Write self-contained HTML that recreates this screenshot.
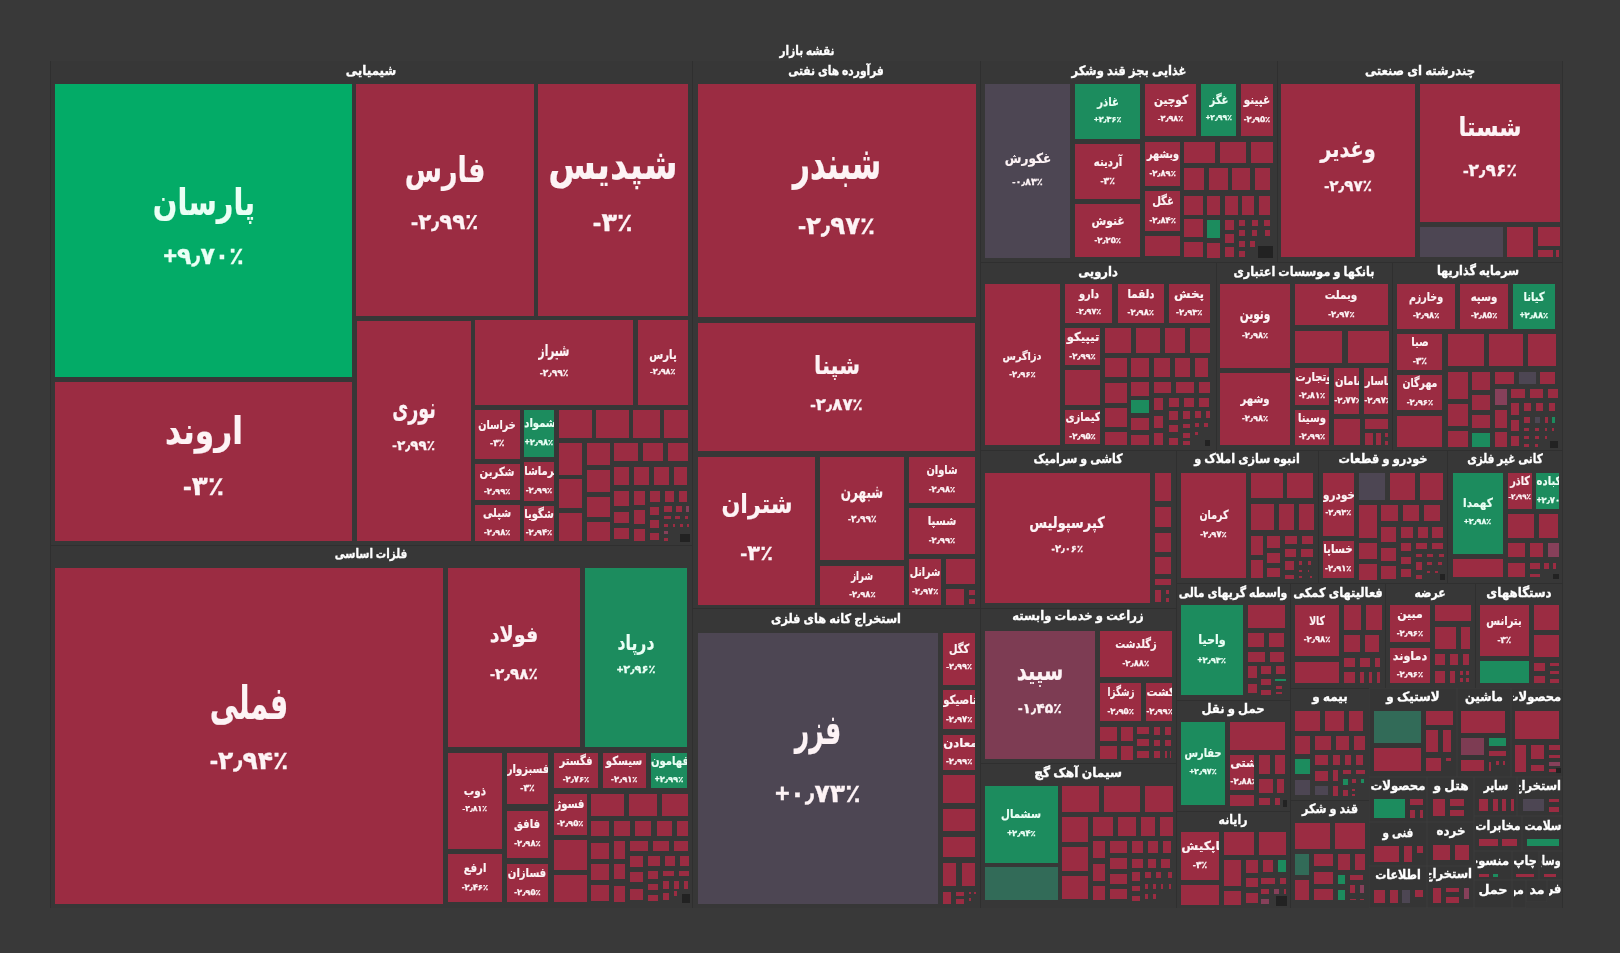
<!DOCTYPE html><html lang="fa"><head><meta charset="utf-8"><title>نقشه بازار</title><style>
html,body{margin:0;padding:0}body{width:1620px;height:953px;background:#393939;overflow:hidden;position:relative;font-family:'Liberation Sans','DejaVu Sans',sans-serif;font-weight:bold;color:#fff}
.c{position:absolute;border-left:1px solid #2f2f2f;box-sizing:border-box}.c2{position:absolute;box-sizing:border-box;background:rgba(0,0,0,.045);box-shadow:inset 0 0 0 .5px rgba(255,255,255,.03)}
.t{position:absolute;overflow:hidden}
.r{background:#9b2c42}
.G{background:#03ab67}
.g{background:#1c8c5e}
.k{background:#4d4653}
.m{background:#7d3c53}
.d{background:#326b58}
.b{background:#222222}
.q{background:#86405a}
.n,.p{position:absolute;left:50%;white-space:nowrap;line-height:1;direction:rtl;color:#fdf3f5}.p{direction:ltr;unicode-bidi:bidi-override;-webkit-text-stroke:.3px currentColor}.n{-webkit-text-stroke:.2px currentColor}
.G .n,.G .p,.g .n,.g .p{color:#eafff5}
.l{position:absolute;overflow:hidden;white-space:nowrap;text-align:center;direction:rtl;font-size:12.8px;line-height:20px;height:20px;color:#fff}
.l{-webkit-text-stroke:.35px #fff}.l span{position:absolute;left:50%;top:0}.l i{font-style:normal;display:inline-block;transform-origin:right center;transform:scaleX(.9)}
#w{position:absolute;left:0;top:0;width:1620px;height:953px;filter:blur(.7px)}
</style></head><body><div id="w">
<div class="c" style="left:50px;top:61px;width:1513px;height:846.5px;border-right:1px solid #303030;background:rgba(0,0,0,.025)"></div>
<div class="c" style="left:50px;top:61px;width:642px;height:484px"></div>
<div class="c" style="left:50px;top:545px;width:642px;height:362.5px;border-top:1px solid #2f2f2f"></div>
<div class="c" style="left:692px;top:61px;width:288px;height:547px"></div>
<div class="c" style="left:692px;top:608px;width:288px;height:299.5px;border-top:1px solid #2f2f2f"></div>
<div class="c" style="left:980px;top:61px;width:297px;height:201px"></div>
<div class="c" style="left:1277px;top:61px;width:286px;height:201px"></div>
<div class="c" style="left:980px;top:262px;width:235.6px;height:188px;border-top:1px solid #2f2f2f"></div>
<div class="c" style="left:1215.6px;top:262px;width:176.4px;height:188px;border-top:1px solid #2f2f2f"></div>
<div class="c" style="left:1392px;top:262px;width:171px;height:188px;border-top:1px solid #2f2f2f"></div>
<div class="c" style="left:980px;top:450px;width:196px;height:158px;border-top:1px solid #2f2f2f"></div>
<div class="c" style="left:1176px;top:450px;width:142px;height:133px;border-top:1px solid #2f2f2f"></div>
<div class="c" style="left:1318px;top:450px;width:129px;height:133px;border-top:1px solid #2f2f2f"></div>
<div class="c" style="left:1447px;top:450px;width:116px;height:133px;border-top:1px solid #2f2f2f"></div>
<div class="c" style="left:980px;top:608px;width:196px;height:155px;border-top:1px solid #2f2f2f"></div>
<div class="c" style="left:980px;top:763px;width:196px;height:144.5px;border-top:1px solid #2f2f2f"></div>
<div class="c" style="left:1176px;top:583px;width:114px;height:117px;border-top:1px solid #2f2f2f"></div>
<div class="c" style="left:1176px;top:700px;width:114px;height:111px;border-top:1px solid #2f2f2f"></div>
<div class="c" style="left:1176px;top:811px;width:114px;height:96.5px;border-top:1px solid #2f2f2f"></div>
<div class="c" style="left:1290px;top:583px;width:95px;height:105px;border-top:1px solid #2f2f2f"></div>
<div class="c" style="left:1385px;top:583px;width:90px;height:105px;border-top:1px solid #2f2f2f"></div>
<div class="c" style="left:1475px;top:583px;width:88px;height:105px;border-top:1px solid #2f2f2f"></div>
<div class="c" style="left:1290px;top:688px;width:79px;height:112px;border-top:1px solid #2f2f2f"></div>
<div class="c" style="left:1290px;top:800px;width:79px;height:107.5px;border-top:1px solid #2f2f2f"></div>
<div class="c2" style="left:1369px;top:688px;width:87.5px;height:89px"></div>
<div class="c2" style="left:1456.5px;top:688px;width:54px;height:89px"></div>
<div class="c2" style="left:1510.5px;top:688px;width:52.5px;height:89px"></div>
<div class="c2" style="left:1369px;top:777px;width:58px;height:45px"></div>
<div class="c2" style="left:1427px;top:777px;width:47px;height:45px"></div>
<div class="c2" style="left:1474px;top:777px;width:43.3px;height:39px"></div>
<div class="c2" style="left:1517.3px;top:777px;width:45.7px;height:39px"></div>
<div class="c2" style="left:1369px;top:822px;width:58px;height:44px"></div>
<div class="c2" style="left:1427px;top:822px;width:47px;height:44px"></div>
<div class="c2" style="left:1474px;top:816px;width:48px;height:35px"></div>
<div class="c2" style="left:1522px;top:816px;width:41px;height:35px"></div>
<div class="c2" style="left:1369px;top:866px;width:58px;height:41.5px"></div>
<div class="c2" style="left:1427px;top:866px;width:47px;height:41.5px"></div>
<div class="c2" style="left:1474px;top:851px;width:37.5px;height:29px"></div>
<div class="c2" style="left:1511.5px;top:851px;width:27px;height:29px"></div>
<div class="c2" style="left:1538.5px;top:851px;width:24.5px;height:29px"></div>
<div class="c2" style="left:1474px;top:880px;width:37.5px;height:27.5px"></div>
<div class="c2" style="left:1511.5px;top:880px;width:14.8px;height:27.5px"></div>
<div class="c2" style="left:1526.3px;top:880px;width:20.7px;height:22px"></div>
<div class="c2" style="left:1547px;top:880px;width:16px;height:14px"></div>
<div class="l" style="left:52px;top:41.1px;width:1509px"><span style="transform:translateX(-50%) scaleX(0.817)">نقشه بازار</span></div>
<div class="l" style="left:52px;top:61.1px;width:638px"><span style="transform:translateX(-50%) scaleX(0.930)">شیمیایی</span></div>
<div class="l" style="left:52px;top:544.1px;width:638px"><span style="transform:translateX(-50%) scaleX(0.806)">فلزات اساسی</span></div>
<div class="l" style="left:694px;top:61.4px;width:284px"><span style="transform:translateX(-50%) scaleX(0.833)">فرآورده های نفتی</span></div>
<div class="l" style="left:694px;top:609.1px;width:284px"><span style="transform:translateX(-50%) scaleX(0.882)">استخراج کانه های فلزی</span></div>
<div class="l" style="left:982px;top:61.3px;width:293px"><span style="transform:translateX(-50%) scaleX(0.899)">غذایی بجز قند وشکر</span></div>
<div class="l" style="left:1279px;top:61.1px;width:282px"><span style="transform:translateX(-50%) scaleX(0.911)">چندرشته ای صنعتی</span></div>
<div class="l" style="left:982px;top:261.9px;width:231.6px"><span style="transform:translateX(-50%) scaleX(0.899)">دارویی</span></div>
<div class="l" style="left:1217.6px;top:261.5px;width:172.4px"><span style="transform:translateX(-50%) scaleX(0.878)">بانکها و موسسات اعتباری</span></div>
<div class="l" style="left:1394px;top:261.1px;width:167px"><span style="transform:translateX(-50%) scaleX(0.874)">سرمایه گذاریها</span></div>
<div class="l" style="left:982px;top:449.3px;width:192px"><span style="transform:translateX(-50%) scaleX(0.857)">کاشی و سرامیک</span></div>
<div class="l" style="left:1178px;top:449.3px;width:138px"><span style="transform:translateX(-50%) scaleX(0.878)">انبوه سازی املاک و</span></div>
<div class="l" style="left:1320px;top:449.1px;width:125px"><span style="transform:translateX(-50%) scaleX(0.891)">خودرو و قطعات</span></div>
<div class="l" style="left:1449px;top:449.1px;width:112px"><span style="transform:translateX(-50%) scaleX(0.819)">کانی غیر فلزی</span></div>
<div class="l" style="left:982px;top:606.4px;width:192px"><span style="transform:translateX(-50%) scaleX(0.903)">زراعت و خدمات وابسته</span></div>
<div class="l" style="left:982px;top:763.4px;width:192px"><span style="transform:translateX(-50%) scaleX(0.951)">سیمان آهک گچ</span></div>
<div class="l" style="left:1178px;top:583.1px;width:110px"><span style="transform:translateX(-50%) scaleX(0.850)">واسطه گریهای مالی</span></div>
<div class="l" style="left:1178px;top:698.9px;width:110px"><span style="transform:translateX(-50%) scaleX(0.903)">حمل و نقل</span></div>
<div class="l" style="left:1178px;top:810.4px;width:110px"><span style="transform:translateX(-50%) scaleX(0.849)">رایانه</span></div>
<div class="l" style="left:1292px;top:583.1px;width:91px"><span style="transform:translateX(-50%) scaleX(0.890)">فعالیتهای کمکی</span></div>
<div class="l" style="left:1387px;top:583.1px;width:86px"><span style="transform:translateX(-50%) scaleX(0.844)">عرضه</span></div>
<div class="l" style="left:1477px;top:583.1px;width:84px"><span style="transform:translateX(-50%) scaleX(0.926)">دستگاههای</span></div>
<div class="l" style="left:1292px;top:686.7px;width:75px"><span style="transform:translateX(-50%) scaleX(0.935)">بیمه و</span></div>
<div class="l" style="left:1292px;top:799.4px;width:75px"><span style="transform:translateX(-50%) scaleX(0.873)">قند و شکر</span></div>
<div class="l" style="left:1371px;top:687px;width:83.5px"><span style="transform:translateX(-50%) scaleX(0.937)">لاستیک و</span></div>
<div class="l" style="left:1458.5px;top:686.5px;width:50px"><span style="transform:translateX(-50%) scaleX(0.899)">ماشین</span></div>
<div class="l" style="left:1512.5px;top:686.5px;width:48.5px"><i>محصولات</i></div>
<div class="l" style="left:1371px;top:775.7px;width:54px"><span style="transform:translateX(-50%) scaleX(0.916)">محصولات</span></div>
<div class="l" style="left:1429px;top:775.7px;width:43px"><span style="transform:translateX(-50%) scaleX(0.948)">هتل و</span></div>
<div class="l" style="left:1476px;top:775.7px;width:39.3px"><span style="transform:translateX(-50%) scaleX(0.811)">سایر</span></div>
<div class="l" style="left:1519.3px;top:775.7px;width:41.7px"><i>استخراج</i></div>
<div class="l" style="left:1371px;top:822.9px;width:54px"><span style="transform:translateX(-50%) scaleX(0.808)">فنی و</span></div>
<div class="l" style="left:1429px;top:821.1px;width:43px"><span style="transform:translateX(-50%) scaleX(0.920)">خرده</span></div>
<div class="l" style="left:1476px;top:815.7px;width:44px"><span style="transform:translateX(-50%) scaleX(0.871)">مخابرات</span></div>
<div class="l" style="left:1524px;top:815.7px;width:37px"><span style="transform:translateX(-50%) scaleX(0.845)">سلامت</span></div>
<div class="l" style="left:1371px;top:865.1px;width:54px"><span style="transform:translateX(-50%) scaleX(0.869)">اطلاعات</span></div>
<div class="l" style="left:1429px;top:863.6px;width:43px"><i>استخراج</i></div>
<div class="l" style="left:1476px;top:850.7px;width:33.5px"><i>منسوجات</i></div>
<div class="l" style="left:1513.5px;top:850.7px;width:23px"><span style="transform:translateX(-50%) scaleX(0.879)">چاپ</span></div>
<div class="l" style="left:1540.5px;top:850.7px;width:20.5px"><i style="transform:scaleX(0.74)">وسایل</i></div>
<div class="l" style="left:1476px;top:880.4px;width:33.5px"><span style="transform:translateX(-50%) scaleX(0.993)">حمل</span></div>
<div class="l" style="left:1513.5px;top:880.4px;width:10.8px"><i>مواد</i></div>
<div class="l" style="left:1528.3px;top:880.4px;width:16.7px"><span style="transform:translateX(-50%) scaleX(0.981)">مد</span></div>
<div class="l" style="left:1549px;top:878.6px;width:12px"><i>فر</i></div>
<div class="t G" style="left:55px;top:84px;width:297px;height:293px"><span class="n" style="top:118.2px;font-size:37px;transform:translate(-50%,-50%) scaleX(0.781)">پارسان</span><span class="p" style="top:173px;font-size:23.7px;transform:translate(-50%,-50%)">+۹٫۷۰٪</span></div>
<div class="t r" style="left:356px;top:84px;width:177.5px;height:231.5px"><span class="n" style="top:85.3px;font-size:35px;transform:translate(-50%,-50%) scaleX(0.772)">فارس</span><span class="p" style="top:139.2px;font-size:21.4px;transform:translate(-50%,-50%)">-۲٫۹۹٪</span></div>
<div class="t r" style="left:537.5px;top:84px;width:150.5px;height:231.5px"><span class="n" style="top:81.1px;font-size:42.2px;transform:translate(-50%,-50%) scaleX(0.817)">شپدیس</span><span class="p" style="top:138.8px;font-size:25.6px;transform:translate(-50%,-50%)">-۳٪</span></div>
<div class="t r" style="left:55px;top:381.5px;width:297px;height:159.5px"><span class="n" style="top:49.1px;font-size:38px;transform:translate(-50%,-50%) scaleX(0.825)">اروند</span><span class="p" style="top:104.8px;font-size:26.3px;transform:translate(-50%,-50%)">-۳٪</span></div>
<div class="t r" style="left:356.5px;top:320.5px;width:114.5px;height:220px"><span class="n" style="top:87.2px;font-size:28.5px;transform:translate(-50%,-50%) scaleX(0.613)">نوری</span><span class="p" style="top:125px;font-size:13.6px;transform:translate(-50%,-50%)">-۲٫۹۹٪</span></div>
<div class="t r" style="left:475px;top:320px;width:158px;height:85px"><span class="n" style="top:29.7px;font-size:16.3px;transform:translate(-50%,-50%) scaleX(0.646)">شیراز</span><span class="p" style="top:53.7px;font-size:9.1px;transform:translate(-50%,-50%)">-۲٫۹۹٪</span></div>
<div class="t r" style="left:638px;top:320px;width:49.5px;height:85px"><span class="n" style="top:34.6px;font-size:12.5px;transform:translate(-50%,-50%) scaleX(0.809)">پارس</span><span class="p" style="top:51.9px;font-size:8.1px;transform:translate(-50%,-50%)">-۲٫۹۸٪</span></div>
<div class="t r" style="left:475px;top:410px;width:44.5px;height:49px"><span class="n" style="top:14.6px;font-size:12.4px;transform:translate(-50%,-50%) scaleX(0.780)">خراسان</span><span class="p" style="top:34.4px;font-size:9.2px;transform:translate(-50%,-50%)">-۳٪</span></div>
<div class="t g" style="left:524px;top:410px;width:30px;height:46.5px"><span class="n" style="left:16.3px;top:13.4px;font-size:12.4px;transform:translate(-50%,-50%) scaleX(0.810)">شمواد</span><span class="p" style="top:32.1px;font-size:8.4px;transform:translate(-50%,-50%)">+۲٫۹۸٪</span></div>
<div class="t r" style="left:475px;top:464px;width:44.5px;height:36px"><span class="n" style="top:8.1px;font-size:12.4px;transform:translate(-50%,-50%) scaleX(0.810)">شکربن</span><span class="p" style="top:26.9px;font-size:8.4px;transform:translate(-50%,-50%)">-۲٫۹۹٪</span></div>
<div class="t r" style="left:524px;top:461.5px;width:30px;height:39.5px"><span class="n" style="left:18.4px;top:9.9px;font-size:12.4px;transform:translate(-50%,-50%) scaleX(0.810)">کرماشا</span><span class="p" style="top:28.6px;font-size:8.4px;transform:translate(-50%,-50%)">-۲٫۹۹٪</span></div>
<div class="t r" style="left:475px;top:505px;width:44.5px;height:36px"><span class="n" style="top:8.1px;font-size:12.4px;transform:translate(-50%,-50%) scaleX(0.810)">شپلی</span><span class="p" style="top:26.9px;font-size:8.4px;transform:translate(-50%,-50%)">-۲٫۹۸٪</span></div>
<div class="t r" style="left:524px;top:506px;width:30px;height:35px"><span class="n" style="left:15.3px;top:7.6px;font-size:12.4px;transform:translate(-50%,-50%) scaleX(0.810)">شگویا</span><span class="p" style="top:26.4px;font-size:8.4px;transform:translate(-50%,-50%)">-۲٫۹۴٪</span></div>
<div class="t r" style="left:558.8px;top:410px;width:33.2px;height:28px"></div>
<div class="t r" style="left:596px;top:410px;width:33px;height:28px"></div>
<div class="t r" style="left:633px;top:410px;width:26.5px;height:28px"></div>
<div class="t r" style="left:664px;top:410px;width:24px;height:28px"></div>
<div class="t r" style="left:559px;top:443px;width:23px;height:31.5px"></div>
<div class="t r" style="left:559px;top:479px;width:23px;height:29px"></div>
<div class="t r" style="left:559px;top:513px;width:23px;height:28px"></div>
<div class="t r" style="left:587px;top:443px;width:22.5px;height:22px"></div>
<div class="t r" style="left:587px;top:470px;width:22.5px;height:21.5px"></div>
<div class="t r" style="left:587px;top:496.5px;width:22.5px;height:20.5px"></div>
<div class="t r" style="left:587px;top:521.5px;width:22.5px;height:19.5px"></div>
<div class="t r" style="left:614px;top:442.8px;width:24.2px;height:18.7px"></div>
<div class="t r" style="left:643px;top:442.8px;width:19.9px;height:18.7px"></div>
<div class="t r" style="left:668px;top:442.8px;width:19.6px;height:18.7px"></div>
<div class="t r" style="left:614px;top:466.6px;width:15.1px;height:18.4px"></div>
<div class="t r" style="left:634px;top:466.6px;width:15px;height:18.4px"></div>
<div class="t r" style="left:653.9px;top:466.6px;width:15px;height:18.4px"></div>
<div class="t r" style="left:674px;top:466.6px;width:13px;height:18.4px"></div>
<div class="t r" style="left:614px;top:490.5px;width:15px;height:15.9px"></div>
<div class="t r" style="left:614px;top:511.6px;width:15px;height:11.4px"></div>
<div class="t r" style="left:614px;top:527.9px;width:15px;height:11.6px"></div>
<div class="t r" style="left:634px;top:490.5px;width:11.4px;height:14.7px"></div>
<div class="t r" style="left:634px;top:510px;width:11.4px;height:13.7px"></div>
<div class="t r" style="left:634px;top:529px;width:11.4px;height:12px"></div>
<div class="t r" style="left:650.2px;top:490.5px;width:10px;height:11.1px"></div>
<div class="t r" style="left:665px;top:490.5px;width:9.4px;height:11.1px"></div>
<div class="t r" style="left:678.8px;top:490.5px;width:8.2px;height:11.1px"></div>
<div class="t r" style="left:650.2px;top:506.8px;width:8.8px;height:8.4px"></div>
<div class="t r" style="left:650.2px;top:520px;width:8.8px;height:7.9px"></div>
<div class="t r" style="left:650.2px;top:533px;width:8.8px;height:6.5px"></div>
<div class="t r" style="left:663.9px;top:506.4px;width:8.1px;height:5.2px"></div>
<div class="t r" style="left:676.4px;top:506.4px;width:5.2px;height:5.2px"></div>
<div class="t q" style="left:685.5px;top:506.4px;width:3px;height:5.2px"></div>
<div class="t r" style="left:663.9px;top:516px;width:6.8px;height:3.4px"></div>
<div class="t r" style="left:675px;top:516px;width:5.4px;height:3.4px"></div>
<div class="t r" style="left:684.9px;top:516px;width:3.6px;height:3.4px"></div>
<div class="t r" style="left:663.9px;top:524px;width:3.8px;height:3px"></div>
<div class="t r" style="left:672.5px;top:524px;width:2.5px;height:3px"></div>
<div class="t r" style="left:680px;top:524px;width:3.2px;height:3px"></div>
<div class="t r" style="left:686.5px;top:524px;width:2px;height:3px"></div>
<div class="t q" style="left:663.9px;top:531px;width:3.8px;height:3px"></div>
<div class="t r" style="left:663.9px;top:538px;width:3.8px;height:3px"></div>
<div class="t b" style="left:680px;top:534px;width:9.5px;height:8px"></div>
<div class="t r" style="left:55px;top:567.7px;width:388px;height:336.3px"><span class="n" style="top:135.2px;font-size:46.1px;transform:translate(-50%,-50%) scaleX(0.622)">فملی</span><span class="p" style="top:192.2px;font-size:25px;transform:translate(-50%,-50%)">-۲٫۹۴٪</span></div>
<div class="t r" style="left:447.5px;top:567.5px;width:132.8px;height:179.3px"><span class="n" style="top:67.6px;font-size:21.8px;transform:translate(-50%,-50%) scaleX(0.880)">فولاد</span><span class="p" style="top:106.2px;font-size:15.2px;transform:translate(-50%,-50%)">-۲٫۹۸٪</span></div>
<div class="t g" style="left:585.2px;top:567.5px;width:101.6px;height:179.3px"><span class="n" style="top:75.3px;font-size:20.7px;transform:translate(-50%,-50%) scaleX(0.759)">درپاد</span><span class="p" style="top:102.5px;font-size:11.4px;transform:translate(-50%,-50%)">+۲٫۹۶٪</span></div>
<div class="t r" style="left:447.5px;top:753.2px;width:54.7px;height:95.5px"><span class="n" style="top:37.9px;font-size:12.4px;transform:translate(-50%,-50%) scaleX(0.840)">ذوب</span><span class="p" style="top:55.9px;font-size:7.8px;transform:translate(-50%,-50%)">-۲٫۸۱٪</span></div>
<div class="t r" style="left:447.5px;top:854px;width:54.7px;height:48px"><span class="n" style="top:14.1px;font-size:12.4px;transform:translate(-50%,-50%) scaleX(0.810)">ارفع</span><span class="p" style="top:32.9px;font-size:8.4px;transform:translate(-50%,-50%)">-۲٫۴۶٪</span></div>
<div class="t r" style="left:506.7px;top:753.2px;width:41.6px;height:51px"><span class="n" style="left:21.8px;top:15.6px;font-size:12.4px;transform:translate(-50%,-50%) scaleX(0.810)">فسبزوار</span><span class="p" style="top:35.4px;font-size:9.2px;transform:translate(-50%,-50%)">-۳٪</span></div>
<div class="t r" style="left:506.7px;top:810.6px;width:41.6px;height:47.5px"><span class="n" style="top:13.9px;font-size:12.4px;transform:translate(-50%,-50%) scaleX(0.810)">فافق</span><span class="p" style="top:32.6px;font-size:8.4px;transform:translate(-50%,-50%)">-۲٫۹۸٪</span></div>
<div class="t r" style="left:506.7px;top:863.8px;width:41.6px;height:38.5px"><span class="n" style="top:9.4px;font-size:12.4px;transform:translate(-50%,-50%) scaleX(0.810)">فسازان</span><span class="p" style="top:28.1px;font-size:8.4px;transform:translate(-50%,-50%)">-۲٫۹۵٪</span></div>
<div class="t r" style="left:553.9px;top:753.2px;width:44.2px;height:34.7px"><span class="n" style="top:7.5px;font-size:12.4px;transform:translate(-50%,-50%) scaleX(0.810)">فگستر</span><span class="p" style="top:26.2px;font-size:8.4px;transform:translate(-50%,-50%)">-۲٫۷۶٪</span></div>
<div class="t r" style="left:603px;top:753px;width:42.6px;height:35px"><span class="n" style="top:7.6px;font-size:12.4px;transform:translate(-50%,-50%) scaleX(0.810)">سیسکو</span><span class="p" style="top:26.4px;font-size:8.4px;transform:translate(-50%,-50%)">-۲٫۹۱٪</span></div>
<div class="t g" style="left:650.9px;top:753px;width:36.3px;height:35px"><span class="n" style="left:19.5px;top:7.6px;font-size:12.4px;transform:translate(-50%,-50%) scaleX(0.810)">فهامون</span><span class="p" style="top:26.4px;font-size:8.4px;transform:translate(-50%,-50%)">+۲٫۹۹٪</span></div>
<div class="t r" style="left:553.9px;top:793.9px;width:32.7px;height:40.9px"><span class="n" style="top:10.6px;font-size:12.4px;transform:translate(-50%,-50%) scaleX(0.810)">فسوژ</span><span class="p" style="top:29.3px;font-size:8.4px;transform:translate(-50%,-50%)">-۲٫۹۵٪</span></div>
<div class="t r" style="left:553.9px;top:840px;width:32.7px;height:29.8px"></div>
<div class="t r" style="left:553.9px;top:875px;width:32.7px;height:27px"></div>
<div class="t r" style="left:591.4px;top:794px;width:32.7px;height:22px"></div>
<div class="t r" style="left:628.9px;top:794px;width:27.9px;height:22px"></div>
<div class="t r" style="left:661.6px;top:794px;width:26.6px;height:22px"></div>
<div class="t r" style="left:591.4px;top:821px;width:17.7px;height:15px"></div>
<div class="t r" style="left:613.9px;top:821px;width:16.3px;height:15px"></div>
<div class="t r" style="left:635px;top:821px;width:16.4px;height:15px"></div>
<div class="t r" style="left:656.5px;top:821px;width:15.3px;height:15px"></div>
<div class="t r" style="left:676.6px;top:821px;width:11.9px;height:15px"></div>
<div class="t r" style="left:591.4px;top:842.5px;width:17.7px;height:16.1px"></div>
<div class="t r" style="left:591.4px;top:864px;width:17.7px;height:15.8px"></div>
<div class="t r" style="left:591.4px;top:885.2px;width:17.7px;height:15.8px"></div>
<div class="t r" style="left:613.9px;top:841px;width:11.6px;height:17.6px"></div>
<div class="t r" style="left:613.9px;top:864px;width:11.6px;height:15px"></div>
<div class="t r" style="left:613.9px;top:886px;width:11.6px;height:16px"></div>
<div class="t r" style="left:630.2px;top:841px;width:17.8px;height:10px"></div>
<div class="t r" style="left:652.7px;top:841px;width:16.3px;height:10px"></div>
<div class="t r" style="left:673.9px;top:841px;width:14.6px;height:10px"></div>
<div class="t r" style="left:630.2px;top:856px;width:12.8px;height:10.5px"></div>
<div class="t r" style="left:630.2px;top:872.3px;width:12.8px;height:10.2px"></div>
<div class="t r" style="left:630.2px;top:889px;width:12.8px;height:11px"></div>
<div class="t r" style="left:648px;top:856px;width:12.2px;height:10px"></div>
<div class="t r" style="left:665px;top:856px;width:10.2px;height:10px"></div>
<div class="t r" style="left:680px;top:856px;width:8.9px;height:10px"></div>
<div class="t r" style="left:648px;top:871px;width:10px;height:7.8px"></div>
<div class="t r" style="left:648px;top:883.9px;width:10px;height:6.1px"></div>
<div class="t r" style="left:648px;top:894.8px;width:10px;height:6.2px"></div>
<div class="t r" style="left:662.5px;top:871px;width:11.4px;height:5px"></div>
<div class="t r" style="left:679px;top:871px;width:10px;height:5px"></div>
<div class="t r" style="left:662.5px;top:881px;width:6.5px;height:7.5px"></div>
<div class="t r" style="left:673.9px;top:881px;width:4.7px;height:7.5px"></div>
<div class="t r" style="left:683.8px;top:881px;width:4.2px;height:7.5px"></div>
<div class="t r" style="left:662.5px;top:893.4px;width:6.5px;height:6.8px"></div>
<div class="t r" style="left:673.9px;top:891.4px;width:2.7px;height:4.6px"></div>
<div class="t b" style="left:682px;top:894px;width:7.5px;height:9px"></div>
<div class="t r" style="left:697.5px;top:84.2px;width:278px;height:233.3px"><span class="n" style="top:80.1px;font-size:45.5px;transform:translate(-50%,-50%) scaleX(0.659)">شبندر</span><span class="p" style="top:141.4px;font-size:24.5px;transform:translate(-50%,-50%)">-۲٫۹۷٪</span></div>
<div class="t r" style="left:698px;top:323px;width:277px;height:128px"><span class="n" style="top:42.7px;font-size:25.2px;transform:translate(-50%,-50%) scaleX(0.843)">شپنا</span><span class="p" style="top:82.1px;font-size:16.7px;transform:translate(-50%,-50%)">-۲٫۸۷٪</span></div>
<div class="t r" style="left:698px;top:457px;width:117.3px;height:148px"><span class="n" style="top:47px;font-size:26.7px;transform:translate(-50%,-50%) scaleX(0.831)">شتران</span><span class="p" style="top:94.7px;font-size:21px;transform:translate(-50%,-50%)">-۳٪</span></div>
<div class="t r" style="left:820.4px;top:457px;width:83.9px;height:103.3px"><span class="n" style="top:36.3px;font-size:17.9px;transform:translate(-50%,-50%) scaleX(0.671)">شبهرن</span><span class="p" style="top:62.6px;font-size:9.1px;transform:translate(-50%,-50%)">-۲٫۹۹٪</span></div>
<div class="t r" style="left:820.4px;top:566px;width:83.9px;height:39px"><span class="n" style="top:9.6px;font-size:12.4px;transform:translate(-50%,-50%) scaleX(0.695)">شراز</span><span class="p" style="top:28.4px;font-size:8.4px;transform:translate(-50%,-50%)">-۲٫۹۸٪</span></div>
<div class="t r" style="left:909px;top:457px;width:66px;height:46.2px"><span class="n" style="top:13.2px;font-size:12.4px;transform:translate(-50%,-50%) scaleX(0.789)">شاوان</span><span class="p" style="top:32px;font-size:8.4px;transform:translate(-50%,-50%)">-۲٫۹۸٪</span></div>
<div class="t r" style="left:909px;top:508.3px;width:66px;height:46px"><span class="n" style="top:13.1px;font-size:12.4px;transform:translate(-50%,-50%) scaleX(0.825)">شسپا</span><span class="p" style="top:31.9px;font-size:8.4px;transform:translate(-50%,-50%)">-۲٫۹۹٪</span></div>
<div class="t r" style="left:909px;top:559.3px;width:32.3px;height:45.7px"><span class="n" style="top:13px;font-size:12.4px;transform:translate(-50%,-50%) scaleX(0.769)">شرانل</span><span class="p" style="top:31.7px;font-size:8.4px;transform:translate(-50%,-50%)">-۲٫۹۷٪</span></div>
<div class="t r" style="left:946.3px;top:559.3px;width:28.7px;height:24.5px"></div>
<div class="t r" style="left:946.3px;top:589px;width:18.2px;height:16px"></div>
<div class="t r" style="left:969px;top:589.5px;width:5.5px;height:5.5px"></div>
<div class="t r" style="left:969px;top:599px;width:5.5px;height:5px"></div>
<div class="t k" style="left:698px;top:632.6px;width:239.6px;height:271.4px"><span class="n" style="top:97.7px;font-size:41.8px;transform:translate(-50%,-50%) scaleX(0.600)">فزر</span><span class="p" style="top:161px;font-size:25.2px;transform:translate(-50%,-50%)">+۰٫۷۳٪</span></div>
<div class="t r" style="left:943px;top:632.6px;width:32.2px;height:52px"><span class="n" style="top:16.1px;font-size:12.4px;transform:translate(-50%,-50%) scaleX(0.793)">کگل</span><span class="p" style="top:34.5px;font-size:8.1px;transform:translate(-50%,-50%)">-۲٫۹۹٪</span></div>
<div class="t r" style="left:943px;top:690px;width:32.2px;height:39.3px"><span class="n" style="left:17.2px;top:9.8px;font-size:12.4px;transform:translate(-50%,-50%) scaleX(0.810)">تاصیکو</span><span class="p" style="top:28.5px;font-size:8.4px;transform:translate(-50%,-50%)">-۲٫۹۷٪</span></div>
<div class="t r" style="left:943px;top:735.4px;width:32.2px;height:34.2px"><span class="n" style="left:21.2px;top:7.2px;font-size:12.4px;transform:translate(-50%,-50%) scaleX(0.942)">ومعادن</span><span class="p" style="top:26px;font-size:8.4px;transform:translate(-50%,-50%)">-۲٫۹۹٪</span></div>
<div class="t r" style="left:943px;top:775.3px;width:32.2px;height:27.9px"></div>
<div class="t r" style="left:943px;top:809px;width:32.2px;height:22px"></div>
<div class="t r" style="left:943px;top:836.8px;width:32.2px;height:20.2px"></div>
<div class="t r" style="left:943px;top:862.7px;width:13.4px;height:23.5px"></div>
<div class="t r" style="left:962px;top:862.7px;width:13px;height:23.5px"></div>
<div class="t r" style="left:943px;top:891.6px;width:8px;height:12.4px"></div>
<div class="t r" style="left:956.4px;top:891.6px;width:7.4px;height:4px"></div>
<div class="t r" style="left:956.4px;top:898.8px;width:7.4px;height:5.2px"></div>
<div class="t r" style="left:968.5px;top:891.6px;width:2.5px;height:2.9px"></div>
<div class="t r" style="left:973.5px;top:891.6px;width:2px;height:2.9px"></div>
<div class="t r" style="left:968.5px;top:898px;width:2.5px;height:2.5px"></div>
<div class="t k" style="left:984.9px;top:84.3px;width:85.3px;height:173.4px"><span class="n" style="top:74.5px;font-size:13.7px;transform:translate(-50%,-50%) scaleX(0.880)">غکورش</span><span class="p" style="top:97.9px;font-size:9.7px;transform:translate(-50%,-50%)">-۰٫۸۳٪</span></div>
<div class="t g" style="left:1075.2px;top:84.3px;width:65px;height:54.9px"><span class="n" style="top:17.6px;font-size:12.4px;transform:translate(-50%,-50%) scaleX(0.817)">غاذر</span><span class="p" style="top:36px;font-size:8.1px;transform:translate(-50%,-50%)">+۲٫۳۶٪</span></div>
<div class="t r" style="left:1145px;top:84.3px;width:51px;height:52.2px"><span class="n" style="top:16.2px;font-size:12.4px;transform:translate(-50%,-50%) scaleX(0.852)">کوچین</span><span class="p" style="top:34.6px;font-size:8.1px;transform:translate(-50%,-50%)">-۲٫۹۸٪</span></div>
<div class="t g" style="left:1201.3px;top:84.3px;width:35.2px;height:52.2px"><span class="n" style="top:16.2px;font-size:12.4px;transform:translate(-50%,-50%) scaleX(0.811)">غگز</span><span class="p" style="top:34.2px;font-size:7.7px;transform:translate(-50%,-50%)">+۲٫۹۹٪</span></div>
<div class="t r" style="left:1241.1px;top:84.3px;width:31.8px;height:52.2px"><span class="n" style="top:16.2px;font-size:12.4px;transform:translate(-50%,-50%) scaleX(0.844)">غپینو</span><span class="p" style="top:35px;font-size:8.4px;transform:translate(-50%,-50%)">-۲٫۹۵٪</span></div>
<div class="t r" style="left:1075.2px;top:144.2px;width:65px;height:55.1px"><span class="n" style="top:17.7px;font-size:12.4px;transform:translate(-50%,-50%) scaleX(0.814)">آردینه</span><span class="p" style="top:37.4px;font-size:9.2px;transform:translate(-50%,-50%)">-۳٪</span></div>
<div class="t r" style="left:1075.2px;top:204.4px;width:65px;height:52.8px"><span class="n" style="top:16.5px;font-size:12.4px;transform:translate(-50%,-50%) scaleX(0.863)">غنوش</span><span class="p" style="top:35.3px;font-size:8.4px;transform:translate(-50%,-50%)">-۲٫۲۵٪</span></div>
<div class="t r" style="left:1145px;top:142px;width:35.3px;height:44.1px"><span class="n" style="top:12.2px;font-size:12.4px;transform:translate(-50%,-50%) scaleX(0.781)">وبشهر</span><span class="p" style="top:30.9px;font-size:8.4px;transform:translate(-50%,-50%)">-۲٫۸۹٪</span></div>
<div class="t r" style="left:1145px;top:190.9px;width:35.3px;height:39.7px"><span class="n" style="top:10px;font-size:12.4px;transform:translate(-50%,-50%) scaleX(0.813)">غگل</span><span class="p" style="top:28.7px;font-size:8.4px;transform:translate(-50%,-50%)">-۲٫۸۴٪</span></div>
<div class="t r" style="left:1145px;top:235.7px;width:35.3px;height:20.3px"></div>
<div class="t r" style="left:1184.3px;top:142px;width:30.7px;height:21px"></div>
<div class="t r" style="left:1220px;top:142px;width:26.4px;height:21px"></div>
<div class="t r" style="left:1251px;top:142px;width:21.9px;height:21px"></div>
<div class="t r" style="left:1184.3px;top:167.8px;width:19.7px;height:22px"></div>
<div class="t r" style="left:1208.5px;top:167.8px;width:19.5px;height:22px"></div>
<div class="t r" style="left:1232.3px;top:167.8px;width:18.1px;height:22px"></div>
<div class="t r" style="left:1255.2px;top:167.8px;width:15px;height:22px"></div>
<div class="t r" style="left:1184.3px;top:196px;width:18.7px;height:18.7px"></div>
<div class="t r" style="left:1207.4px;top:196px;width:12.6px;height:18.7px"></div>
<div class="t r" style="left:1225px;top:196px;width:12.6px;height:18.7px"></div>
<div class="t r" style="left:1242px;top:196px;width:11.7px;height:18.7px"></div>
<div class="t r" style="left:1258.8px;top:196px;width:11.2px;height:18.7px"></div>
<div class="t r" style="left:1184.3px;top:219px;width:18.7px;height:17.8px"></div>
<div class="t r" style="left:1184.3px;top:241.8px;width:18.7px;height:14.8px"></div>
<div class="t g" style="left:1207.4px;top:220px;width:12.6px;height:18px"></div>
<div class="t r" style="left:1207.4px;top:242.7px;width:12.6px;height:15px"></div>
<div class="t r" style="left:1225px;top:219.5px;width:8.9px;height:10px"></div>
<div class="t r" style="left:1225px;top:233.5px;width:8.9px;height:9.5px"></div>
<div class="t r" style="left:1225px;top:247px;width:8.9px;height:9.6px"></div>
<div class="t r" style="left:1238.9px;top:219.5px;width:6.6px;height:6px"></div>
<div class="t r" style="left:1251.5px;top:219.5px;width:6.5px;height:6px"></div>
<div class="t r" style="left:1264.3px;top:219.5px;width:5.9px;height:6px"></div>
<div class="t r" style="left:1238.9px;top:230px;width:6.6px;height:6px"></div>
<div class="t r" style="left:1251.5px;top:230px;width:5.5px;height:6px"></div>
<div class="t r" style="left:1264.7px;top:230px;width:5.5px;height:6px"></div>
<div class="t r" style="left:1238.9px;top:240.5px;width:6.6px;height:6px"></div>
<div class="t r" style="left:1250.4px;top:240.5px;width:4.4px;height:6px"></div>
<div class="t r" style="left:1238.9px;top:250.5px;width:6.6px;height:6.1px"></div>
<div class="t b" style="left:1258px;top:246px;width:15px;height:11.7px"></div>
<div class="t r" style="left:1281px;top:84.3px;width:134.3px;height:172.9px"><span class="n" style="top:65.7px;font-size:23.3px;transform:translate(-50%,-50%) scaleX(0.827)">وغدیر</span><span class="p" style="top:102.1px;font-size:15.2px;transform:translate(-50%,-50%)">-۲٫۹۷٪</span></div>
<div class="t r" style="left:1420.3px;top:84.3px;width:139.3px;height:137.5px"><span class="n" style="top:44px;font-size:25.8px;transform:translate(-50%,-50%) scaleX(0.880)">شستا</span><span class="p" style="top:86.4px;font-size:17.2px;transform:translate(-50%,-50%)">-۲٫۹۶٪</span></div>
<div class="t k" style="left:1420.3px;top:226.8px;width:82.7px;height:30.2px"></div>
<div class="t r" style="left:1507.3px;top:226.8px;width:25.4px;height:30.2px"></div>
<div class="t r" style="left:1537.5px;top:226.8px;width:22.1px;height:19.4px"></div>
<div class="t r" style="left:1537.5px;top:250px;width:15px;height:7px"></div>
<div class="t r" style="left:1555.8px;top:250px;width:3.2px;height:7px"></div>
<div class="t r" style="left:984.9px;top:284.4px;width:75.1px;height:160.6px"><span class="n" style="top:71.6px;font-size:11px;transform:translate(-50%,-50%) scaleX(0.880)">دزاگرس</span><span class="p" style="top:89.5px;font-size:8.4px;transform:translate(-50%,-50%)">-۲٫۹۶٪</span></div>
<div class="t r" style="left:1064.8px;top:284.4px;width:47.7px;height:38.2px"><span class="n" style="top:9.2px;font-size:12.4px;transform:translate(-50%,-50%) scaleX(0.794)">دارو</span><span class="p" style="top:27.6px;font-size:8px;transform:translate(-50%,-50%)">-۲٫۹۷٪</span></div>
<div class="t r" style="left:1117.7px;top:284.4px;width:46.2px;height:38.2px"><span class="n" style="top:9.2px;font-size:12.4px;transform:translate(-50%,-50%) scaleX(0.819)">دلقما</span><span class="p" style="top:28px;font-size:8.4px;transform:translate(-50%,-50%)">-۲٫۹۸٪</span></div>
<div class="t r" style="left:1168.5px;top:284.4px;width:41.6px;height:38.2px"><span class="n" style="top:9.2px;font-size:12.4px;transform:translate(-50%,-50%) scaleX(0.966)">پخش</span><span class="p" style="top:28px;font-size:8.4px;transform:translate(-50%,-50%)">-۲٫۹۳٪</span></div>
<div class="t r" style="left:1064.8px;top:328px;width:35.5px;height:37.2px"><span class="n" style="top:8.7px;font-size:12.4px;transform:translate(-50%,-50%) scaleX(0.937)">تیپیکو</span><span class="p" style="top:27.5px;font-size:8.4px;transform:translate(-50%,-50%)">-۲٫۹۹٪</span></div>
<div class="t r" style="left:1064.8px;top:370px;width:35.5px;height:35px"></div>
<div class="t r" style="left:1064.8px;top:410.3px;width:35.5px;height:33.6px"><span class="n" style="left:18.1px;top:6.9px;font-size:12.4px;transform:translate(-50%,-50%) scaleX(0.805)">کیمازی</span><span class="p" style="top:25.7px;font-size:8.4px;transform:translate(-50%,-50%)">-۲٫۹۵٪</span></div>
<div class="t r" style="left:1104.7px;top:328px;width:26.7px;height:24.6px"></div>
<div class="t r" style="left:1136.2px;top:328px;width:23.9px;height:24.6px"></div>
<div class="t r" style="left:1165px;top:328px;width:20.3px;height:24.6px"></div>
<div class="t r" style="left:1190.2px;top:328px;width:19.9px;height:24.6px"></div>
<div class="t r" style="left:1104.7px;top:357.9px;width:21.9px;height:19.3px"></div>
<div class="t r" style="left:1131.4px;top:357.9px;width:17.8px;height:19.3px"></div>
<div class="t r" style="left:1153.8px;top:357.9px;width:16.4px;height:19.3px"></div>
<div class="t r" style="left:1174.8px;top:357.9px;width:15.4px;height:19.3px"></div>
<div class="t r" style="left:1195px;top:357.9px;width:13px;height:19.3px"></div>
<div class="t r" style="left:1104.7px;top:382.6px;width:21.9px;height:20.4px"></div>
<div class="t r" style="left:1104.7px;top:408.2px;width:21.9px;height:18.5px"></div>
<div class="t r" style="left:1104.7px;top:431.7px;width:21.9px;height:13.3px"></div>
<div class="t r" style="left:1131.4px;top:382px;width:17.8px;height:13.6px"></div>
<div class="t g" style="left:1131.4px;top:400.3px;width:17.8px;height:12.5px"></div>
<div class="t r" style="left:1131.4px;top:418.3px;width:17.8px;height:12px"></div>
<div class="t r" style="left:1131.4px;top:435px;width:17.8px;height:10px"></div>
<div class="t r" style="left:1153.8px;top:382px;width:17.5px;height:11px"></div>
<div class="t r" style="left:1176.1px;top:382px;width:17.6px;height:11px"></div>
<div class="t r" style="left:1198.5px;top:382px;width:11.5px;height:11px"></div>
<div class="t r" style="left:1153.8px;top:398px;width:9.7px;height:12px"></div>
<div class="t r" style="left:1153.8px;top:415.6px;width:9.7px;height:12.4px"></div>
<div class="t r" style="left:1153.8px;top:433px;width:9.7px;height:12px"></div>
<div class="t r" style="left:1168.5px;top:398px;width:10.1px;height:8.5px"></div>
<div class="t r" style="left:1183.9px;top:398px;width:10.4px;height:8.5px"></div>
<div class="t r" style="left:1198.5px;top:398px;width:10.5px;height:8.5px"></div>
<div class="t r" style="left:1168.5px;top:411.4px;width:9.1px;height:8.4px"></div>
<div class="t r" style="left:1168.5px;top:425px;width:9.1px;height:7.4px"></div>
<div class="t r" style="left:1168.5px;top:437.6px;width:9.1px;height:7.4px"></div>
<div class="t r" style="left:1182.8px;top:411.4px;width:7.4px;height:7.4px"></div>
<div class="t r" style="left:1182.8px;top:424px;width:7.4px;height:4.2px"></div>
<div class="t r" style="left:1182.8px;top:433.4px;width:7.4px;height:4.2px"></div>
<div class="t r" style="left:1182.8px;top:440.8px;width:7.4px;height:4.2px"></div>
<div class="t r" style="left:1195.4px;top:411.4px;width:5.2px;height:6.6px"></div>
<div class="t r" style="left:1205.9px;top:411.4px;width:4.1px;height:6.6px"></div>
<div class="t r" style="left:1195.4px;top:423px;width:4.1px;height:4px"></div>
<div class="t r" style="left:1204px;top:423px;width:3.5px;height:4px"></div>
<div class="t r" style="left:1195.4px;top:432px;width:3.1px;height:3px"></div>
<div class="t b" style="left:1204.5px;top:439.5px;width:5.5px;height:6.5px"></div>
<div class="t r" style="left:1220.1px;top:284.4px;width:69.9px;height:83.3px"><span class="n" style="top:29.3px;font-size:15.8px;transform:translate(-50%,-50%) scaleX(0.671)">ونوین</span><span class="p" style="top:50.3px;font-size:8.3px;transform:translate(-50%,-50%)">-۲٫۹۸٪</span></div>
<div class="t r" style="left:1220.1px;top:373px;width:69.9px;height:72px"><span class="n" style="top:26.1px;font-size:12.4px;transform:translate(-50%,-50%) scaleX(0.810)">وشهر</span><span class="p" style="top:44.8px;font-size:8.3px;transform:translate(-50%,-50%)">-۲٫۹۸٪</span></div>
<div class="t r" style="left:1295.2px;top:284.4px;width:92.4px;height:40.9px"><span class="n" style="top:10.6px;font-size:12.4px;transform:translate(-50%,-50%) scaleX(0.840)">وبملت</span><span class="p" style="top:29.3px;font-size:8.4px;transform:translate(-50%,-50%)">-۲٫۹۷٪</span></div>
<div class="t r" style="left:1295.2px;top:331px;width:47.3px;height:32px"></div>
<div class="t r" style="left:1347.7px;top:331px;width:40.9px;height:32px"></div>
<div class="t r" style="left:1295.2px;top:368.3px;width:33.6px;height:36.7px"><span class="n" style="left:19px;top:8.5px;font-size:12.4px;transform:translate(-50%,-50%) scaleX(0.810)">وتجارت</span><span class="p" style="top:27.2px;font-size:8.4px;transform:translate(-50%,-50%)">-۲٫۸۱٪</span></div>
<div class="t r" style="left:1295.2px;top:410.3px;width:33.6px;height:34.7px"><span class="n" style="top:7.5px;font-size:12.4px;transform:translate(-50%,-50%) scaleX(0.807)">وسینا</span><span class="p" style="top:26.2px;font-size:8.4px;transform:translate(-50%,-50%)">-۲٫۹۹٪</span></div>
<div class="t r" style="left:1334px;top:368.3px;width:25.2px;height:45.6px"><span class="n" style="left:16.6px;top:12.9px;font-size:12.4px;transform:translate(-50%,-50%) scaleX(0.808)">سامان</span><span class="p" style="left:13.7px;top:31.7px;font-size:8.4px;transform:translate(-50%,-50%)">-۲٫۷۷٪</span></div>
<div class="t r" style="left:1364px;top:368.3px;width:23.6px;height:45.6px"><span class="n" style="left:16.6px;top:12.9px;font-size:12.4px;transform:translate(-50%,-50%) scaleX(0.783)">وپاسار</span><span class="p" style="left:13.7px;top:31.7px;font-size:8.4px;transform:translate(-50%,-50%)">-۲٫۹۷٪</span></div>
<div class="t r" style="left:1334px;top:419.1px;width:25.9px;height:25.9px"></div>
<div class="t r" style="left:1364.5px;top:419.1px;width:23.1px;height:10.1px"></div>
<div class="t r" style="left:1364.5px;top:433.4px;width:8.5px;height:11.6px"></div>
<div class="t r" style="left:1376px;top:433.4px;width:5.3px;height:11.6px"></div>
<div class="t r" style="left:1385.3px;top:433.4px;width:2.3px;height:3.6px"></div>
<div class="t r" style="left:1385.3px;top:441px;width:2.3px;height:4px"></div>
<div class="t r" style="left:1397.2px;top:284.4px;width:57.9px;height:44.5px"><span class="n" style="top:12.4px;font-size:12.4px;transform:translate(-50%,-50%) scaleX(0.766)">وخارزم</span><span class="p" style="top:31.1px;font-size:8.4px;transform:translate(-50%,-50%)">-۲٫۹۸٪</span></div>
<div class="t r" style="left:1460.2px;top:284.4px;width:47.8px;height:44.5px"><span class="n" style="top:12.4px;font-size:12.4px;transform:translate(-50%,-50%) scaleX(0.823)">وسپه</span><span class="p" style="top:31.1px;font-size:8.4px;transform:translate(-50%,-50%)">-۲٫۸۵٪</span></div>
<div class="t g" style="left:1512.6px;top:284.4px;width:42.6px;height:44.5px"><span class="n" style="top:12.4px;font-size:12.4px;transform:translate(-50%,-50%) scaleX(0.810)">کیانا</span><span class="p" style="top:31.1px;font-size:8.4px;transform:translate(-50%,-50%)">+۲٫۸۸٪</span></div>
<div class="t r" style="left:1397.2px;top:334.3px;width:45.3px;height:35.7px"><span class="n" style="top:8px;font-size:12.4px;transform:translate(-50%,-50%) scaleX(0.812)">صبا</span><span class="p" style="top:27.7px;font-size:9.2px;transform:translate(-50%,-50%)">-۳٪</span></div>
<div class="t r" style="left:1397.2px;top:375px;width:45.3px;height:35.3px"><span class="n" style="top:7.8px;font-size:12.4px;transform:translate(-50%,-50%) scaleX(0.756)">مهرگان</span><span class="p" style="top:26.5px;font-size:8.4px;transform:translate(-50%,-50%)">-۲٫۹۶٪</span></div>
<div class="t r" style="left:1397.2px;top:415.5px;width:45.3px;height:31.5px"></div>
<div class="t r" style="left:1447.6px;top:334.3px;width:36.3px;height:31.9px"></div>
<div class="t r" style="left:1488.7px;top:334.3px;width:34px;height:31.9px"></div>
<div class="t r" style="left:1527.5px;top:334.3px;width:28.8px;height:31.9px"></div>
<div class="t r" style="left:1447.6px;top:372.1px;width:20.1px;height:27.3px"></div>
<div class="t r" style="left:1447.6px;top:404.4px;width:20.1px;height:21.6px"></div>
<div class="t r" style="left:1447.6px;top:430.9px;width:20.1px;height:16.1px"></div>
<div class="t r" style="left:1472.3px;top:372.1px;width:17.9px;height:18.3px"></div>
<div class="t r" style="left:1472.3px;top:395.2px;width:17.9px;height:15.1px"></div>
<div class="t r" style="left:1472.3px;top:414.9px;width:17.9px;height:13.2px"></div>
<div class="t g" style="left:1472.3px;top:433px;width:17.9px;height:14px"></div>
<div class="t r" style="left:1495px;top:372.1px;width:19.3px;height:12px"></div>
<div class="t k" style="left:1518.5px;top:372.1px;width:17.2px;height:12px"></div>
<div class="t r" style="left:1540px;top:372.1px;width:15.2px;height:12px"></div>
<div class="t q" style="left:1495px;top:389.3px;width:12px;height:15.7px"></div>
<div class="t r" style="left:1495px;top:410.3px;width:12px;height:17.8px"></div>
<div class="t r" style="left:1495px;top:432.3px;width:12px;height:14.7px"></div>
<div class="t r" style="left:1511.2px;top:389.3px;width:13.6px;height:8.4px"></div>
<div class="t r" style="left:1530px;top:389.3px;width:12.6px;height:8.4px"></div>
<div class="t r" style="left:1547.5px;top:389.3px;width:10.9px;height:8.4px"></div>
<div class="t r" style="left:1511.2px;top:403px;width:7.8px;height:11.5px"></div>
<div class="t r" style="left:1511.2px;top:419.7px;width:7.8px;height:11.6px"></div>
<div class="t r" style="left:1511.2px;top:435.9px;width:7.8px;height:10.1px"></div>
<div class="t r" style="left:1523.8px;top:403px;width:7.7px;height:8.3px"></div>
<div class="t r" style="left:1536.3px;top:403px;width:6.3px;height:8.3px"></div>
<div class="t r" style="left:1549px;top:403px;width:6.2px;height:8.3px"></div>
<div class="t r" style="left:1523.8px;top:416.6px;width:6.2px;height:6.3px"></div>
<div class="t k" style="left:1534.9px;top:416.6px;width:5.6px;height:6.3px"></div>
<div class="t r" style="left:1544.7px;top:416.6px;width:3.3px;height:6.3px"></div>
<div class="t g" style="left:1552px;top:416.6px;width:2.6px;height:6.3px"></div>
<div class="t r" style="left:1523.8px;top:427.5px;width:5.2px;height:3.5px"></div>
<div class="t r" style="left:1534.9px;top:427.5px;width:4.1px;height:3.5px"></div>
<div class="t r" style="left:1544.7px;top:427.5px;width:2.3px;height:3.5px"></div>
<div class="t r" style="left:1552px;top:427.5px;width:2px;height:3.5px"></div>
<div class="t r" style="left:1523.8px;top:435.5px;width:5.2px;height:3.5px"></div>
<div class="t r" style="left:1534.9px;top:435.5px;width:4.1px;height:3.5px"></div>
<div class="t r" style="left:1544.7px;top:435.5px;width:2.3px;height:3.5px"></div>
<div class="t r" style="left:1523.8px;top:443.5px;width:5.2px;height:3px"></div>
<div class="t r" style="left:1534.9px;top:443.5px;width:3.1px;height:3px"></div>
<div class="t b" style="left:1549.5px;top:441px;width:8.5px;height:6.5px"></div>
<div class="t r" style="left:984.8px;top:473px;width:165px;height:129.9px"><span class="n" style="top:49.9px;font-size:15.8px;transform:translate(-50%,-50%) scaleX(0.819)">کپرسپولیس</span><span class="p" style="top:76.3px;font-size:10px;transform:translate(-50%,-50%)">-۲٫۰۶٪</span></div>
<div class="t r" style="left:1155.2px;top:473px;width:16.1px;height:28.2px"></div>
<div class="t r" style="left:1155.2px;top:506.6px;width:16.1px;height:20.8px"></div>
<div class="t r" style="left:1155.2px;top:533.3px;width:16.1px;height:18.4px"></div>
<div class="t r" style="left:1155.2px;top:557px;width:16.1px;height:16.5px"></div>
<div class="t r" style="left:1155.2px;top:579.2px;width:16.1px;height:5.8px"></div>
<div class="t r" style="left:1155.2px;top:590px;width:5.8px;height:12px"></div>
<div class="t r" style="left:1166px;top:590.4px;width:2.6px;height:3.6px"></div>
<div class="t r" style="left:1166px;top:598.4px;width:2.6px;height:3.6px"></div>
<div class="t r" style="left:1181px;top:473.1px;width:65px;height:104.5px"><span class="n" style="top:42.4px;font-size:12.4px;transform:translate(-50%,-50%) scaleX(0.767)">کرمان</span><span class="p" style="top:61.1px;font-size:8.4px;transform:translate(-50%,-50%)">-۲٫۹۷٪</span></div>
<div class="t r" style="left:1251px;top:473.1px;width:31.5px;height:25.4px"></div>
<div class="t r" style="left:1287.4px;top:473.1px;width:25.3px;height:25.4px"></div>
<div class="t r" style="left:1251px;top:504.3px;width:23.2px;height:25.6px"></div>
<div class="t r" style="left:1278.7px;top:504.3px;width:15.3px;height:25.6px"></div>
<div class="t r" style="left:1299px;top:504.3px;width:14.7px;height:25.6px"></div>
<div class="t r" style="left:1251px;top:535.5px;width:11.8px;height:19.8px"></div>
<div class="t r" style="left:1251px;top:560.1px;width:11.8px;height:17.5px"></div>
<div class="t r" style="left:1267.3px;top:535.5px;width:13px;height:12.2px"></div>
<div class="t r" style="left:1267.3px;top:552.5px;width:13px;height:10.4px"></div>
<div class="t r" style="left:1267.3px;top:567.7px;width:13px;height:9.3px"></div>
<div class="t r" style="left:1285.1px;top:535.5px;width:12.4px;height:8.4px"></div>
<div class="t r" style="left:1302.3px;top:535.5px;width:10.7px;height:8.4px"></div>
<div class="t r" style="left:1285px;top:549.2px;width:11.2px;height:7.6px"></div>
<div class="t r" style="left:1301px;top:549.2px;width:11.7px;height:7.6px"></div>
<div class="t r" style="left:1285px;top:561.3px;width:9px;height:9.2px"></div>
<div class="t r" style="left:1285px;top:574.6px;width:9px;height:4.2px"></div>
<div class="t r" style="left:1299px;top:561.3px;width:3.3px;height:3.9px"></div>
<div class="t r" style="left:1307.6px;top:561.3px;width:3.8px;height:3.9px"></div>
<div class="t r" style="left:1299px;top:569.5px;width:2.5px;height:2.5px"></div>
<div class="t r" style="left:1307.6px;top:569.5px;width:1.9px;height:2.5px"></div>
<div class="t r" style="left:1299px;top:575.5px;width:2.5px;height:2.5px"></div>
<div class="t r" style="left:1310px;top:575.5px;width:2px;height:2.5px"></div>
<div class="t r" style="left:1322.5px;top:473.1px;width:31.6px;height:63.2px"><span class="n" style="left:16.4px;top:21.7px;font-size:12.4px;transform:translate(-50%,-50%) scaleX(0.839)">خودرو</span><span class="p" style="top:40.3px;font-size:8.2px;transform:translate(-50%,-50%)">-۲٫۹۴٪</span></div>
<div class="t r" style="left:1322.5px;top:541.1px;width:31.6px;height:36.5px"><span class="n" style="top:8.4px;font-size:12.4px;transform:translate(-50%,-50%) scaleX(0.834)">خساپا</span><span class="p" style="top:27.1px;font-size:8.4px;transform:translate(-50%,-50%)">-۲٫۹۱٪</span></div>
<div class="t k" style="left:1359px;top:473.1px;width:25.8px;height:26.7px"></div>
<div class="t r" style="left:1389.8px;top:473.1px;width:25.2px;height:26.7px"></div>
<div class="t r" style="left:1419.8px;top:473.1px;width:23.3px;height:26.7px"></div>
<div class="t r" style="left:1359px;top:505.1px;width:17.6px;height:32.7px"></div>
<div class="t r" style="left:1359px;top:543.1px;width:17.6px;height:15.7px"></div>
<div class="t r" style="left:1359px;top:563.6px;width:17.6px;height:16px"></div>
<div class="t r" style="left:1381.2px;top:505.1px;width:16.7px;height:16.4px"></div>
<div class="t r" style="left:1402.5px;top:505.1px;width:16.2px;height:16.4px"></div>
<div class="t r" style="left:1423.6px;top:505.1px;width:16.9px;height:16.4px"></div>
<div class="t r" style="left:1381.2px;top:526.8px;width:14.8px;height:15.5px"></div>
<div class="t r" style="left:1381.2px;top:548.1px;width:14.8px;height:13.2px"></div>
<div class="t r" style="left:1381.2px;top:566.2px;width:14.8px;height:12.6px"></div>
<div class="t r" style="left:1401.3px;top:526.8px;width:11.4px;height:11px"></div>
<div class="t r" style="left:1417.7px;top:526.8px;width:10.2px;height:11px"></div>
<div class="t r" style="left:1432.4px;top:526.8px;width:10.7px;height:11px"></div>
<div class="t r" style="left:1401.3px;top:543.1px;width:9.8px;height:8.4px"></div>
<div class="t r" style="left:1401.3px;top:556.8px;width:9.8px;height:7.6px"></div>
<div class="t r" style="left:1401.3px;top:569px;width:9.8px;height:8.3px"></div>
<div class="t r" style="left:1416.2px;top:543.1px;width:11.2px;height:6.1px"></div>
<div class="t r" style="left:1432.4px;top:543.1px;width:10.7px;height:6.1px"></div>
<div class="t r" style="left:1416.2px;top:553.7px;width:6.3px;height:3.8px"></div>
<div class="t r" style="left:1427.4px;top:553.7px;width:5.8px;height:3.8px"></div>
<div class="t r" style="left:1439px;top:553.7px;width:4.8px;height:3.8px"></div>
<div class="t r" style="left:1427.4px;top:562.1px;width:5px;height:3.1px"></div>
<div class="t r" style="left:1437.8px;top:562.1px;width:4.5px;height:3.1px"></div>
<div class="t r" style="left:1416.2px;top:562px;width:6.3px;height:7.7px"></div>
<div class="t r" style="left:1416.2px;top:575px;width:6.3px;height:3.8px"></div>
<div class="t r" style="left:1427.4px;top:570.5px;width:3.1px;height:2.5px"></div>
<div class="t r" style="left:1435px;top:570.5px;width:2.5px;height:2.5px"></div>
<div class="t b" style="left:1440px;top:574px;width:4.6px;height:5.6px"></div>
<div class="t g" style="left:1452.5px;top:473.1px;width:50.2px;height:80.6px"><span class="n" style="top:30.4px;font-size:12.4px;transform:translate(-50%,-50%) scaleX(0.853)">کهمدا</span><span class="p" style="top:48.7px;font-size:8px;transform:translate(-50%,-50%)">+۲٫۹۸٪</span></div>
<div class="t r" style="left:1452.5px;top:559.1px;width:50.2px;height:18.2px"></div>
<div class="t r" style="left:1507.7px;top:473.1px;width:24px;height:35.8px"><span class="n" style="top:8px;font-size:12.4px;transform:translate(-50%,-50%) scaleX(0.776)">کاذر</span><span class="p" style="top:25.3px;font-size:7.1px;transform:translate(-50%,-50%)">-۲٫۹۹٪</span></div>
<div class="t g" style="left:1536.1px;top:473px;width:22.8px;height:35.9px"><span class="n" style="left:12.9px;top:8.1px;font-size:12.4px;transform:translate(-50%,-50%) scaleX(0.810)">کباده</span><span class="p" style="left:14.8px;top:26.8px;font-size:8.4px;transform:translate(-50%,-50%)">+۲٫۷۰٪</span></div>
<div class="t r" style="left:1507.7px;top:514.2px;width:26.3px;height:23.6px"></div>
<div class="t r" style="left:1538.9px;top:514.2px;width:19.4px;height:23.6px"></div>
<div class="t r" style="left:1507.7px;top:543.1px;width:17.5px;height:14.4px"></div>
<div class="t r" style="left:1530px;top:543.1px;width:12.7px;height:14.4px"></div>
<div class="t q" style="left:1547.7px;top:543.1px;width:11.2px;height:14.4px"></div>
<div class="t r" style="left:1507.7px;top:562.9px;width:17.5px;height:13.7px"></div>
<div class="t r" style="left:1530px;top:562.9px;width:9.6px;height:6.1px"></div>
<div class="t r" style="left:1530px;top:574px;width:9.6px;height:3.3px"></div>
<div class="t r" style="left:1544.2px;top:563.3px;width:4.5px;height:5.7px"></div>
<div class="t r" style="left:1553.3px;top:563.3px;width:3px;height:5.7px"></div>
<div class="t b" style="left:1553.3px;top:574.3px;width:6.1px;height:4.5px"></div>
<div class="t m" style="left:984.8px;top:630.5px;width:110.1px;height:128.1px"><span class="n" style="top:40.8px;font-size:27px;transform:translate(-50%,-50%) scaleX(0.728)">سپید</span><span class="p" style="top:78.3px;font-size:13.9px;transform:translate(-50%,-50%)">-۱٫۴۵٪</span></div>
<div class="t r" style="left:1099.9px;top:630.5px;width:71.9px;height:46.9px"><span class="n" style="top:13.6px;font-size:12.4px;transform:translate(-50%,-50%) scaleX(0.799)">زگلدشت</span><span class="p" style="top:32.4px;font-size:8.5px;transform:translate(-50%,-50%)">-۲٫۸۸٪</span></div>
<div class="t r" style="left:1099.9px;top:682.7px;width:41.4px;height:38.8px"><span class="n" style="top:9.5px;font-size:12.4px;transform:translate(-50%,-50%) scaleX(0.697)">زشگزا</span><span class="p" style="top:28.3px;font-size:8.4px;transform:translate(-50%,-50%)">-۲٫۹۵٪</span></div>
<div class="t r" style="left:1145.9px;top:682.7px;width:25.9px;height:38.8px"><span class="n" style="left:18.1px;top:9.5px;font-size:12.4px;transform:translate(-50%,-50%) scaleX(0.879)">زکشت</span><span class="p" style="left:13.7px;top:28.3px;font-size:8.4px;transform:translate(-50%,-50%)">-۲٫۹۹٪</span></div>
<div class="t r" style="left:1099.9px;top:726.5px;width:16.9px;height:14.2px"></div>
<div class="t r" style="left:1099.9px;top:746px;width:16.9px;height:12.6px"></div>
<div class="t r" style="left:1121.3px;top:726.5px;width:11.6px;height:14.2px"></div>
<div class="t r" style="left:1121.3px;top:746px;width:11.6px;height:13.5px"></div>
<div class="t r" style="left:1137.4px;top:726.5px;width:11.6px;height:7.1px"></div>
<div class="t r" style="left:1137.4px;top:739px;width:11.6px;height:7px"></div>
<div class="t r" style="left:1137.4px;top:751px;width:11.6px;height:6.7px"></div>
<div class="t r" style="left:1153.9px;top:726.5px;width:6.6px;height:8px"></div>
<div class="t r" style="left:1153.9px;top:739.8px;width:6.6px;height:6.2px"></div>
<div class="t r" style="left:1153.9px;top:751.4px;width:6.6px;height:6.3px"></div>
<div class="t r" style="left:1165px;top:726.5px;width:6.3px;height:8px"></div>
<div class="t r" style="left:1165px;top:739.8px;width:6.3px;height:6.2px"></div>
<div class="t r" style="left:1165px;top:751.4px;width:2px;height:6.3px"></div>
<div class="t r" style="left:1169.5px;top:751.4px;width:1.5px;height:6.3px"></div>
<div class="t g" style="left:984.8px;top:785.8px;width:73.2px;height:76.8px"><span class="n" style="top:28.5px;font-size:12.4px;transform:translate(-50%,-50%) scaleX(0.822)">سشمال</span><span class="p" style="top:47.3px;font-size:8.4px;transform:translate(-50%,-50%)">+۲٫۹۴٪</span></div>
<div class="t d" style="left:984.8px;top:867.4px;width:73.2px;height:32.6px"></div>
<div class="t r" style="left:1062.4px;top:785.8px;width:36.6px;height:26.6px"></div>
<div class="t r" style="left:1103.8px;top:785.8px;width:36.2px;height:26.6px"></div>
<div class="t r" style="left:1144.8px;top:785.8px;width:27.9px;height:26.6px"></div>
<div class="t r" style="left:1062.4px;top:817.4px;width:25.4px;height:25px"></div>
<div class="t r" style="left:1062.4px;top:847.4px;width:25.4px;height:23.9px"></div>
<div class="t r" style="left:1062.4px;top:876.3px;width:25.4px;height:22.9px"></div>
<div class="t r" style="left:1092.8px;top:817.4px;width:19.9px;height:18.8px"></div>
<div class="t r" style="left:1117.7px;top:817.4px;width:18.8px;height:18.8px"></div>
<div class="t r" style="left:1141.3px;top:817.4px;width:13.5px;height:18.8px"></div>
<div class="t r" style="left:1160px;top:817.4px;width:12.7px;height:18.8px"></div>
<div class="t r" style="left:1092.8px;top:841.2px;width:12.4px;height:17.3px"></div>
<div class="t r" style="left:1092.8px;top:863.8px;width:12.4px;height:17px"></div>
<div class="t r" style="left:1092.8px;top:886.1px;width:12.4px;height:14.3px"></div>
<div class="t r" style="left:1110px;top:841.2px;width:16.7px;height:11.9px"></div>
<div class="t r" style="left:1131.5px;top:841.2px;width:11.2px;height:11.9px"></div>
<div class="t r" style="left:1147.7px;top:841.2px;width:10.2px;height:11.9px"></div>
<div class="t r" style="left:1162.7px;top:841.2px;width:8.6px;height:11.9px"></div>
<div class="t r" style="left:1110px;top:858.1px;width:16.7px;height:11.1px"></div>
<div class="t r" style="left:1110px;top:873.6px;width:16.7px;height:10.7px"></div>
<div class="t r" style="left:1110px;top:889.2px;width:16.7px;height:10px"></div>
<div class="t r" style="left:1131.5px;top:858.5px;width:11.2px;height:9.3px"></div>
<div class="t r" style="left:1147.7px;top:858.5px;width:8.4px;height:9.3px"></div>
<div class="t r" style="left:1161.1px;top:858.5px;width:9.3px;height:9.3px"></div>
<div class="t r" style="left:1131.5px;top:872.4px;width:8.5px;height:8.9px"></div>
<div class="t r" style="left:1131.5px;top:886.1px;width:8.5px;height:5.4px"></div>
<div class="t r" style="left:1131.5px;top:896px;width:8.5px;height:5.3px"></div>
<div class="t r" style="left:1145.4px;top:872.4px;width:5.3px;height:5.7px"></div>
<div class="t r" style="left:1156px;top:872.4px;width:5.4px;height:5.7px"></div>
<div class="t r" style="left:1167.7px;top:872.4px;width:4.4px;height:5.7px"></div>
<div class="t r" style="left:1145.4px;top:883.5px;width:2.7px;height:5.3px"></div>
<div class="t r" style="left:1153.4px;top:883.5px;width:2.2px;height:5.3px"></div>
<div class="t r" style="left:1160.5px;top:883.5px;width:2.7px;height:5.3px"></div>
<div class="t r" style="left:1168.6px;top:883.5px;width:2.7px;height:5.3px"></div>
<div class="t r" style="left:1145.4px;top:894.2px;width:2.7px;height:4.4px"></div>
<div class="t r" style="left:1153.4px;top:894.2px;width:2.7px;height:4.4px"></div>
<div class="t g" style="left:1181px;top:605.1px;width:61.5px;height:89.6px"><span class="n" style="top:34.5px;font-size:12.7px;transform:translate(-50%,-50%) scaleX(0.880)">واحیا</span><span class="p" style="top:54.5px;font-size:8.4px;transform:translate(-50%,-50%)">+۲٫۹۳٪</span></div>
<div class="t r" style="left:1247.6px;top:605.1px;width:37.5px;height:22.8px"></div>
<div class="t r" style="left:1247.6px;top:632.5px;width:16.7px;height:14px"></div>
<div class="t r" style="left:1268.9px;top:632.5px;width:15.1px;height:14px"></div>
<div class="t r" style="left:1247.6px;top:651.5px;width:17.4px;height:10.5px"></div>
<div class="t r" style="left:1270px;top:651.5px;width:14px;height:10.5px"></div>
<div class="t r" style="left:1247.6px;top:666.3px;width:9.1px;height:12.1px"></div>
<div class="t r" style="left:1247.6px;top:683.7px;width:9.1px;height:9.2px"></div>
<div class="t r" style="left:1261.3px;top:666.3px;width:9.8px;height:7.6px"></div>
<div class="t r" style="left:1261.3px;top:678.7px;width:9.8px;height:6.6px"></div>
<div class="t r" style="left:1261.3px;top:689.8px;width:9.8px;height:5.2px"></div>
<div class="t r" style="left:1276px;top:666.3px;width:9px;height:7.6px"></div>
<div class="t g" style="left:1275px;top:678.9px;width:11px;height:2.6px"></div>
<div class="t r" style="left:1276px;top:686px;width:6px;height:2.5px"></div>
<div class="t r" style="left:1276px;top:692px;width:6px;height:2px"></div>
<div class="t g" style="left:1181px;top:721.5px;width:44.1px;height:83.3px"><span class="n" style="top:31.8px;font-size:12.4px;transform:translate(-50%,-50%) scaleX(0.791)">حفارس</span><span class="p" style="top:50px;font-size:8px;transform:translate(-50%,-50%)">+۲٫۹۷٪</span></div>
<div class="t r" style="left:1230.1px;top:721.5px;width:55px;height:28.6px"></div>
<div class="t r" style="left:1230.1px;top:755.1px;width:23.9px;height:35px"><span class="n" style="left:21.2px;top:7.6px;font-size:12.4px;transform:translate(-50%,-50%) scaleX(0.894)">حکشتی</span><span class="p" style="left:13.7px;top:26.4px;font-size:8.4px;transform:translate(-50%,-50%)">-۲٫۸۸٪</span></div>
<div class="t r" style="left:1230.1px;top:795.2px;width:23.9px;height:10.4px"></div>
<div class="t r" style="left:1258.7px;top:755.1px;width:11.7px;height:18.6px"></div>
<div class="t r" style="left:1275.2px;top:755.1px;width:9.6px;height:18.6px"></div>
<div class="t r" style="left:1258.7px;top:779px;width:14px;height:13.7px"></div>
<div class="t r" style="left:1277.2px;top:779px;width:6.8px;height:13.7px"></div>
<div class="t r" style="left:1258.7px;top:797.7px;width:11.7px;height:7.1px"></div>
<div class="t r" style="left:1275px;top:797.7px;width:5.3px;height:7.1px"></div>
<div class="t b" style="left:1282.5px;top:800.3px;width:4.5px;height:6.5px"></div>
<div class="t r" style="left:1181px;top:832.2px;width:38px;height:47.6px"><span class="n" style="left:22.3px;top:13.9px;font-size:12.4px;transform:translate(-50%,-50%) scaleX(0.994)">تاپکیش</span><span class="p" style="top:33.7px;font-size:9.2px;transform:translate(-50%,-50%)">-۳٪</span></div>
<div class="t r" style="left:1181px;top:885.2px;width:38px;height:19.7px"></div>
<div class="t r" style="left:1224px;top:832.2px;width:30px;height:22.6px"></div>
<div class="t r" style="left:1259px;top:832.2px;width:27.3px;height:22.6px"></div>
<div class="t r" style="left:1224px;top:860.1px;width:17.2px;height:25.8px"></div>
<div class="t r" style="left:1224px;top:891.3px;width:17.2px;height:13.6px"></div>
<div class="t r" style="left:1246px;top:860.1px;width:11.5px;height:12.6px"></div>
<div class="t r" style="left:1246px;top:877.6px;width:11.5px;height:9.9px"></div>
<div class="t r" style="left:1246px;top:892.5px;width:11.5px;height:10.9px"></div>
<div class="t r" style="left:1262.5px;top:860.1px;width:10.2px;height:12.2px"></div>
<div class="t g" style="left:1277.7px;top:860.1px;width:8.6px;height:12.2px"></div>
<div class="t r" style="left:1261.3px;top:877.6px;width:13.7px;height:6.1px"></div>
<div class="t r" style="left:1279.8px;top:877.6px;width:6.5px;height:6.1px"></div>
<div class="t r" style="left:1261px;top:889px;width:8px;height:5px"></div>
<div class="t q" style="left:1274.2px;top:889px;width:5.3px;height:5px"></div>
<div class="t r" style="left:1284px;top:889px;width:2.3px;height:5px"></div>
<div class="t q" style="left:1261.3px;top:898.9px;width:7.7px;height:4.8px"></div>
<div class="t b" style="left:1276px;top:896px;width:11px;height:9.7px"></div>
<div class="t r" style="left:1295.2px;top:605.1px;width:43.8px;height:50.9px"><span class="n" style="top:15.6px;font-size:12.4px;transform:translate(-50%,-50%) scaleX(0.746)">کالا</span><span class="p" style="top:34.4px;font-size:8.5px;transform:translate(-50%,-50%)">-۲٫۹۸٪</span></div>
<div class="t r" style="left:1295.2px;top:661.7px;width:43.8px;height:21.7px"></div>
<div class="t r" style="left:1344px;top:605.1px;width:17px;height:24.7px"></div>
<div class="t r" style="left:1366px;top:605.1px;width:15.6px;height:24.7px"></div>
<div class="t r" style="left:1344px;top:635.1px;width:16.3px;height:17.2px"></div>
<div class="t r" style="left:1365.2px;top:635.1px;width:13.8px;height:17.2px"></div>
<div class="t r" style="left:1344px;top:657.9px;width:11.3px;height:9.6px"></div>
<div class="t r" style="left:1360px;top:657.9px;width:9.9px;height:9.6px"></div>
<div class="t r" style="left:1374.7px;top:657.9px;width:5.3px;height:9.6px"></div>
<div class="t r" style="left:1344px;top:672.3px;width:11.3px;height:10.7px"></div>
<div class="t r" style="left:1360px;top:672.3px;width:4px;height:10.7px"></div>
<div class="t r" style="left:1368.6px;top:672.3px;width:3.9px;height:10.7px"></div>
<div class="t r" style="left:1377px;top:672.3px;width:3px;height:10.7px"></div>
<div class="t r" style="left:1389.9px;top:605.1px;width:39.9px;height:37.3px"><span class="n" style="top:8.8px;font-size:12.4px;transform:translate(-50%,-50%) scaleX(0.887)">مبین</span><span class="p" style="top:27.5px;font-size:8.4px;transform:translate(-50%,-50%)">-۲٫۹۶٪</span></div>
<div class="t r" style="left:1389.9px;top:648px;width:39.9px;height:34.7px"><span class="n" style="top:7.5px;font-size:12.4px;transform:translate(-50%,-50%) scaleX(0.908)">دماوند</span><span class="p" style="top:26.2px;font-size:8.4px;transform:translate(-50%,-50%)">-۲٫۹۶٪</span></div>
<div class="t r" style="left:1435.2px;top:605.1px;width:35.8px;height:16.3px"></div>
<div class="t r" style="left:1435.2px;top:626.7px;width:20.8px;height:22.4px"></div>
<div class="t r" style="left:1461px;top:626.7px;width:9.2px;height:22.4px"></div>
<div class="t r" style="left:1435.2px;top:654.1px;width:9.9px;height:11.4px"></div>
<div class="t r" style="left:1450.1px;top:654.1px;width:7.6px;height:11.4px"></div>
<div class="t r" style="left:1462.6px;top:654.1px;width:6.8px;height:11.4px"></div>
<div class="t r" style="left:1435.2px;top:671.1px;width:9.9px;height:11.6px"></div>
<div class="t r" style="left:1450px;top:671.1px;width:5.3px;height:11.6px"></div>
<div class="t r" style="left:1459.8px;top:670.8px;width:2.8px;height:3.8px"></div>
<div class="t r" style="left:1466.4px;top:670.8px;width:3px;height:3.8px"></div>
<div class="t r" style="left:1459.8px;top:678.4px;width:2.8px;height:3.8px"></div>
<div class="t r" style="left:1466.4px;top:678.4px;width:3px;height:3.8px"></div>
<div class="t r" style="left:1480.1px;top:605.1px;width:48.6px;height:51.3px"><span class="n" style="top:15.8px;font-size:12.4px;transform:translate(-50%,-50%) scaleX(0.808)">بترانس</span><span class="p" style="top:35px;font-size:8.8px;transform:translate(-50%,-50%)">-۳٪</span></div>
<div class="t g" style="left:1480.1px;top:661.4px;width:48.6px;height:21.3px"></div>
<div class="t r" style="left:1533.8px;top:605.1px;width:25.4px;height:24.7px"></div>
<div class="t r" style="left:1533.8px;top:635.1px;width:25.4px;height:22px"></div>
<div class="t r" style="left:1533.8px;top:662.9px;width:11.2px;height:8.2px"></div>
<div class="t r" style="left:1533.8px;top:676.1px;width:11.2px;height:6.6px"></div>
<div class="t r" style="left:1550px;top:662.5px;width:8.7px;height:3.5px"></div>
<div class="t r" style="left:1550px;top:670.8px;width:8.7px;height:3.1px"></div>
<div class="t r" style="left:1550px;top:678.7px;width:8.7px;height:4px"></div>
<div class="t r" style="left:1295.2px;top:710.5px;width:24.8px;height:20.6px"></div>
<div class="t r" style="left:1324.8px;top:710.5px;width:19.2px;height:20.6px"></div>
<div class="t r" style="left:1348.9px;top:710.5px;width:14.4px;height:20.6px"></div>
<div class="t r" style="left:1295.2px;top:736.4px;width:14.9px;height:17.5px"></div>
<div class="t r" style="left:1315px;top:736.4px;width:16.4px;height:13.4px"></div>
<div class="t r" style="left:1336.3px;top:736.4px;width:12.6px;height:13.4px"></div>
<div class="t r" style="left:1353.7px;top:736.4px;width:11.1px;height:13.4px"></div>
<div class="t g" style="left:1295.2px;top:759.2px;width:14.9px;height:15.2px"></div>
<div class="t k" style="left:1295.2px;top:780px;width:14.9px;height:14.6px"></div>
<div class="t r" style="left:1315px;top:755.4px;width:12.6px;height:9.9px"></div>
<div class="t r" style="left:1332.5px;top:755.4px;width:7.3px;height:9.9px"></div>
<div class="t r" style="left:1345px;top:755.4px;width:6.2px;height:9.9px"></div>
<div class="t r" style="left:1356.2px;top:755.4px;width:7.1px;height:9.9px"></div>
<div class="t r" style="left:1315px;top:771.4px;width:12.6px;height:9.6px"></div>
<div class="t k" style="left:1315px;top:786.1px;width:12.6px;height:8.5px"></div>
<div class="t r" style="left:1332.5px;top:770.3px;width:5px;height:10.7px"></div>
<div class="t r" style="left:1332.5px;top:786px;width:5px;height:9.7px"></div>
<div class="t r" style="left:1342.5px;top:770.3px;width:8.7px;height:3.3px"></div>
<div class="t r" style="left:1356.2px;top:770.3px;width:8.6px;height:3.3px"></div>
<div class="t g" style="left:1342.5px;top:779px;width:5.2px;height:6px"></div>
<div class="t r" style="left:1352px;top:779px;width:3.7px;height:3.8px"></div>
<div class="t g" style="left:1361px;top:779px;width:3px;height:3.8px"></div>
<div class="t r" style="left:1342.5px;top:789.6px;width:5.2px;height:6.1px"></div>
<div class="t r" style="left:1352px;top:789px;width:3px;height:2px"></div>
<div class="t r" style="left:1352px;top:794px;width:3px;height:2px"></div>
<div class="t r" style="left:1295.2px;top:822.8px;width:35px;height:25.9px"></div>
<div class="t r" style="left:1334.9px;top:822.8px;width:29.9px;height:25.9px"></div>
<div class="t d" style="left:1295.2px;top:854px;width:13.8px;height:20.8px"></div>
<div class="t r" style="left:1295.2px;top:880.2px;width:13.8px;height:19.8px"></div>
<div class="t r" style="left:1313.9px;top:854px;width:19px;height:12.2px"></div>
<div class="t r" style="left:1313.9px;top:871.5px;width:19px;height:12.2px"></div>
<div class="t r" style="left:1313.9px;top:889px;width:19px;height:11px"></div>
<div class="t r" style="left:1337.5px;top:854px;width:12.6px;height:15.7px"></div>
<div class="t r" style="left:1355px;top:854px;width:9.8px;height:15.7px"></div>
<div class="t g" style="left:1337.5px;top:875.3px;width:7.6px;height:9.1px"></div>
<div class="t g" style="left:1337.5px;top:890px;width:7.6px;height:9.6px"></div>
<div class="t r" style="left:1350.1px;top:874.8px;width:12.5px;height:5px"></div>
<div class="t r" style="left:1350px;top:885.2px;width:5px;height:8.3px"></div>
<div class="t q" style="left:1359.8px;top:885.2px;width:4.2px;height:8.3px"></div>
<div class="t r" style="left:1350px;top:898.5px;width:5.5px;height:1.3px"></div>
<div class="t r" style="left:1360px;top:898.5px;width:4px;height:1.3px"></div>
<div class="t d" style="left:1373.7px;top:710.5px;width:47.4px;height:32px"></div>
<div class="t r" style="left:1373.7px;top:747.8px;width:47.4px;height:23.6px"></div>
<div class="t r" style="left:1426.1px;top:710.5px;width:26.6px;height:14.2px"></div>
<div class="t r" style="left:1426.1px;top:730.3px;width:11.9px;height:22.1px"></div>
<div class="t r" style="left:1442.8px;top:730.3px;width:8.4px;height:22.1px"></div>
<div class="t r" style="left:1426.1px;top:758px;width:15.2px;height:13.4px"></div>
<div class="t r" style="left:1446.2px;top:758px;width:5px;height:3.2px"></div>
<div class="t r" style="left:1461.1px;top:710.5px;width:43.8px;height:22.1px"></div>
<div class="t m" style="left:1461.1px;top:737.9px;width:22.8px;height:16.7px"></div>
<div class="t g" style="left:1488.9px;top:737.9px;width:17.5px;height:8.1px"></div>
<div class="t r" style="left:1488.9px;top:751.3px;width:17.5px;height:4.9px"></div>
<div class="t r" style="left:1461.1px;top:760px;width:22.8px;height:11.4px"></div>
<div class="t r" style="left:1488.9px;top:761.5px;width:2.3px;height:9.9px"></div>
<div class="t r" style="left:1496px;top:761px;width:2.5px;height:3.5px"></div>
<div class="t r" style="left:1503px;top:761px;width:2px;height:3.5px"></div>
<div class="t r" style="left:1515.1px;top:710.5px;width:44.1px;height:28.9px"></div>
<div class="t r" style="left:1515.1px;top:745.1px;width:10.9px;height:27px"></div>
<div class="t r" style="left:1531px;top:745.1px;width:13px;height:14.1px"></div>
<div class="t r" style="left:1531px;top:764.8px;width:13px;height:6.6px"></div>
<div class="t r" style="left:1549px;top:745.1px;width:10.6px;height:4.5px"></div>
<div class="t r" style="left:1549px;top:754.6px;width:10.6px;height:3.4px"></div>
<div class="t q" style="left:1549px;top:762.2px;width:10.6px;height:3.4px"></div>
<div class="t r" style="left:1549px;top:769px;width:10.6px;height:3.1px"></div>
<div class="t b" style="left:1556px;top:768.3px;width:4.7px;height:5px"></div>
<div class="t g" style="left:1373.7px;top:798.7px;width:31.5px;height:19.8px"></div>
<div class="t r" style="left:1410px;top:798.7px;width:13.1px;height:6.1px"></div>
<div class="t r" style="left:1410px;top:810.2px;width:5px;height:8.3px"></div>
<div class="t r" style="left:1419.6px;top:810.2px;width:3.5px;height:8.3px"></div>
<div class="t r" style="left:1432.5px;top:798.7px;width:12.6px;height:17.2px"></div>
<div class="t r" style="left:1450.1px;top:798.7px;width:14px;height:6.9px"></div>
<div class="t r" style="left:1450.1px;top:810.2px;width:14px;height:5.7px"></div>
<div class="t r" style="left:1478.6px;top:798.7px;width:9.1px;height:12.2px"></div>
<div class="t r" style="left:1492.7px;top:798.7px;width:4.9px;height:12.2px"></div>
<div class="t r" style="left:1502.1px;top:798.7px;width:4.3px;height:12.2px"></div>
<div class="t r" style="left:1511px;top:798.7px;width:3px;height:12.2px"></div>
<div class="t k" style="left:1523.4px;top:798.7px;width:20.6px;height:12.2px"></div>
<div class="t r" style="left:1549px;top:798.7px;width:9.7px;height:3.8px"></div>
<div class="t r" style="left:1549px;top:807.1px;width:9.7px;height:4.6px"></div>
<div class="t r" style="left:1373.7px;top:846.4px;width:25.4px;height:16px"></div>
<div class="t r" style="left:1403.9px;top:846.4px;width:8.6px;height:16px"></div>
<div class="t r" style="left:1417.3px;top:846.4px;width:5.3px;height:7.1px"></div>
<div class="t r" style="left:1432.5px;top:845.2px;width:17.5px;height:14.9px"></div>
<div class="t r" style="left:1455px;top:845.2px;width:13.7px;height:14.9px"></div>
<div class="t r" style="left:1478.6px;top:839.2px;width:19px;height:6.7px"></div>
<div class="t r" style="left:1502.1px;top:839.2px;width:15.2px;height:6.7px"></div>
<div class="t g" style="left:1527.2px;top:839.2px;width:32px;height:6.7px"></div>
<div class="t r" style="left:1373.7px;top:890px;width:11.4px;height:13.4px"></div>
<div class="t r" style="left:1390px;top:890px;width:7.9px;height:13.4px"></div>
<div class="t k" style="left:1402.4px;top:890px;width:7.6px;height:13.4px"></div>
<div class="t r" style="left:1415px;top:890px;width:8.1px;height:7.3px"></div>
<div class="t r" style="left:1432.5px;top:887.5px;width:8.8px;height:15.9px"></div>
<div class="t r" style="left:1446.2px;top:887.5px;width:12.6px;height:4.5px"></div>
<div class="t r" style="left:1446.2px;top:897.3px;width:12.6px;height:5.4px"></div>
<div class="t q" style="left:1464.1px;top:887.5px;width:4.9px;height:11.4px"></div>
<div class="t r" style="left:1478.6px;top:873.7px;width:10.3px;height:3px"></div>
<div class="t g" style="left:1493px;top:873.7px;width:4.8px;height:3px"></div>
<div class="t r" style="left:1515.6px;top:873.7px;width:18.1px;height:3px"></div>
<div class="t r" style="left:1543.7px;top:873.7px;width:12.6px;height:3px"></div>
</div></body></html>
